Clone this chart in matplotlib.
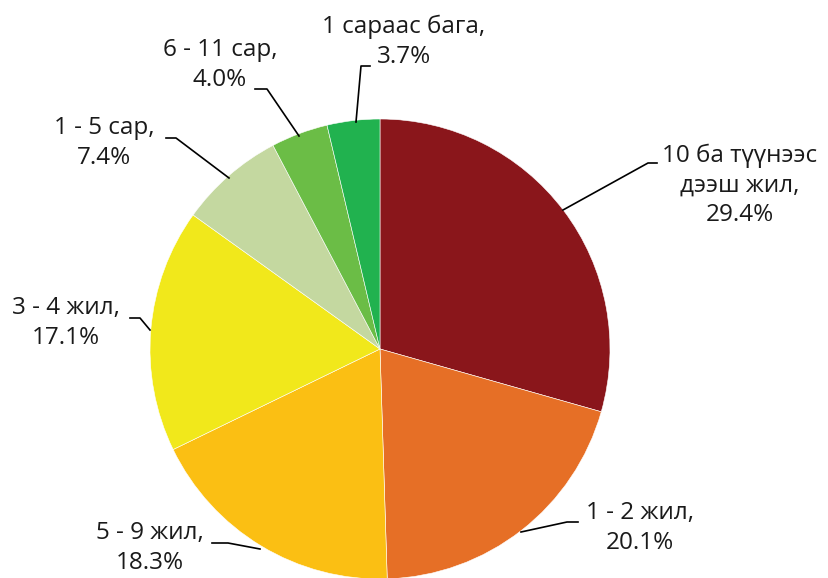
import matplotlib
matplotlib.use("Agg")
import matplotlib.pyplot as plt

plt.rcParams["font.family"] = ["Open Sans", "DejaVu Sans"]

# Data
labels = [
    "10 ба түүнээс\nдээш жил,\n29.4%",
    "1 - 2 жил,\n20.1%",
    "5 - 9 жил,\n18.3%",
    "3 - 4 жил,\n17.1%",
    "1 - 5 сар,\n7.4%",
    "6 - 11 сар,\n4.0%",
    "1 сараас бага,\n3.7%",
]
values = [29.4, 20.1, 18.3, 17.1, 7.4, 4.0, 3.7]
colors = ["#8A161B", "#E66F26", "#FBBF13", "#F1E81B", "#C4D8A0", "#6BBD46", "#21B24F"]

W, H = 829, 578
fig = plt.figure(figsize=(W / 100, H / 100), dpi=100)
ax = fig.add_axes([0, 0, 1, 1])

cx, cy, r = 380, H - 349, 230
ax.pie(values, colors=colors, startangle=90, counterclock=False,
       center=(cx, cy), radius=r, frame=True,
       wedgeprops=dict(linewidth=0.4, edgecolor="white"))
ax.set_xlim(0, W)
ax.set_ylim(0, H)
ax.axis("off")

# label text centres and leader lines (pixel coords, y from top)
text_pos = [(740, 185), (640, 528), (150, 548), (66, 323), (104, 143), (220, 65), (404, 42)]
leaders = [
    [(563, 210), (648, 163), (657, 163)],
    [(521, 532), (567, 522), (578, 522)],
    [(260, 549), (228, 543), (212, 543)],
    [(150, 330), (140, 318), (130, 318)],
    [(229, 178), (176, 138), (166, 138)],
    [(299, 136), (267, 89), (255, 89)],
    [(356, 122), (361, 66), (370, 66)],
]

for lab, (tx, ty), pts in zip(labels, text_pos, leaders):
    ax.text(tx, H - ty, lab, ha="center", va="center", fontsize=17.5,
            color="#1a1a1a", linespacing=1.3)
    xs = [p[0] for p in pts]
    ys = [H - p[1] for p in pts]
    ax.plot(xs, ys, color="black", linewidth=1.2)

fig.savefig("out.png", dpi=100)
